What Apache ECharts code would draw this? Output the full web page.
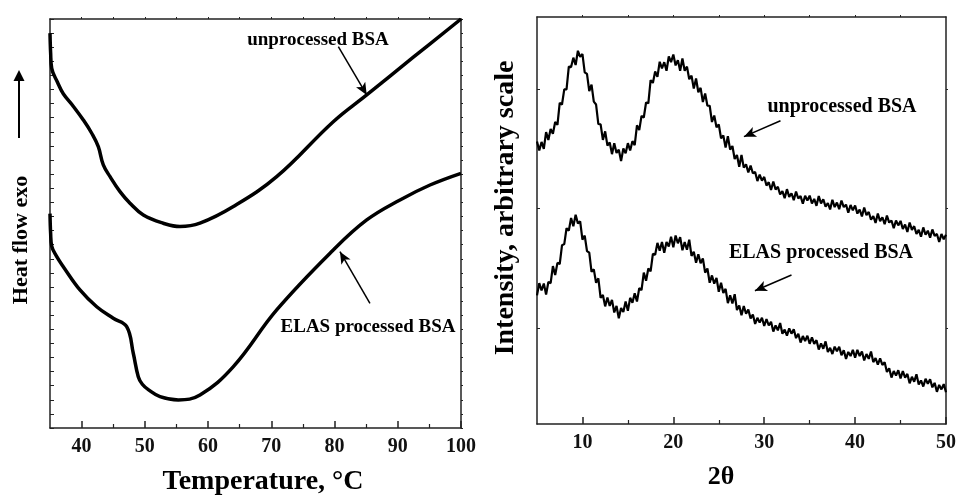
<!DOCTYPE html>
<html><head><meta charset="utf-8">
<script src="https://cdn.jsdelivr.net/npm/echarts@6/dist/echarts.min.js"></script>
<style>html,body{margin:0;padding:0;background:#fff}#c{width:959px;height:495px}</style>
</head><body><div id="c"></div>
<script>
// ---- DSC (left panel) ----
const dscTempUnprocessed = [35.0,35.1,35.27,36.2,37.1,38.7,40.27,41.6,42.64,43.43,44.5,46.07,47.65,49.76,52.9,55.56,58.72,64.0,70.85,79.8,85.09,92.46,100];
const dscHeatUnprocessed = [28.0,26.6,25.5,24.5,23.7,22.8,21.84,20.9,19.95,18.65,17.82,16.76,15.94,15.1,14.52,14.28,14.52,15.7,17.82,21.72,23.62,26.29,29.0];
const dscTempElas = [35.0,35.1,35.27,36.0,37.1,39.74,42.39,45.0,47.13,48.17,48.96,49.6,50.6,52.4,55.29,58.72,64.0,70.85,79.8,85.09,90.35,95.1,100];
const dscHeatElas = [15.2,13.8,12.9,12.2,11.44,9.79,8.6,7.78,7.18,5.3,3.64,3.1,2.7,2.22,1.99,2.34,4.35,8.37,12.62,14.75,16.17,17.23,18.06];
const dscTicks = [40,50,60,70,80,90,100];
const dscMinorTicks = [45,55,65,75,85,95];
const dscTopTicks = [40,45,50,55,60,65,70,75,80,85,90,95];

// ---- XRD (right panel), sampled every 0.25 deg from 5 deg ----
const xrdStart = 5, xrdStep = 0.25;
const xrdUnprocessed = [
69.4,67.2,69.3,67.6,71.7,69.8,72.5,71.3,74.2,73.5,
78.9,78.5,82.2,82.2,87.8,87.7,90.0,88.2,91.7,90.2,
90.9,86.4,86.0,81.8,83.4,79.2,78.5,73.7,73.6,69.8,
71.9,68.4,69.2,66.3,69.0,66.6,67.4,64.6,67.7,66.5,
69.0,67.2,69.5,68.5,73.4,72.2,75.7,75.3,79.0,78.8,
84.5,83.8,86.6,85.3,89.0,87.4,88.9,86.8,90.3,88.9,
90.8,88.1,89.4,86.8,89.8,86.8,87.8,84.7,85.6,82.4,
84.9,81.5,82.6,79.1,81.2,78.2,78.2,74.2,75.8,72.9,
73.6,70.2,70.9,67.9,70.7,67.4,68.3,65.1,66.1,63.2,
66.1,63.0,63.8,61.8,63.5,61.6,61.9,59.7,61.3,59.8,
60.7,58.6,59.4,57.5,59.6,57.6,58.3,56.4,57.2,55.5,
57.7,55.8,56.7,55.0,57.1,55.4,56.0,54.1,56.1,54.9,
56.1,54.2,55.3,53.6,56.0,54.2,55.2,53.4,54.3,52.7,
55.1,53.3,54.4,52.8,54.9,53.3,53.9,51.9,53.8,52.5,
53.7,51.7,52.7,51.0,53.2,51.3,52.1,50.2,51.1,49.4,
51.7,49.8,50.8,49.1,51.2,49.5,50.0,48.1,50.0,48.8,
49.9,47.9,49.0,47.2,49.5,47.7,48.6,46.7,47.7,46.0,
48.3,46.5,47.5,45.8,47.8,46.2,46.7,44.7,46.7,45.4,
46.5];
const xrdElas = [
31.6,34.6,32.8,34.5,31.8,34.9,34.6,38.8,36.6,39.6,
39.3,43.9,44.2,48.1,47.5,50.6,48.6,51.4,49.3,49.8,
45.3,46.3,42.5,42.1,37.4,38.0,34.7,35.8,31.0,31.7,
28.9,31.1,29.0,30.5,27.4,29.0,26.0,28.5,27.5,30.1,
27.8,31.0,29.8,32.1,30.1,33.4,32.9,37.2,35.2,38.2,
37.5,41.8,41.6,44.5,42.6,44.7,42.1,44.7,43.6,46.0,
43.4,46.3,44.4,45.9,42.7,44.7,42.8,45.3,41.3,42.3,
39.6,41.7,39.5,40.7,37.2,38.2,34.7,36.5,34.5,35.9,
32.5,34.7,32.2,33.2,29.7,31.6,29.6,31.9,28.0,29.1,
26.7,29.0,27.1,28.1,25.9,26.9,24.6,26.1,24.9,26.1,
24.1,25.8,24.2,25.1,22.7,24.2,23.0,24.8,22.2,23.2,
21.7,23.5,22.2,23.3,21.1,22.2,20.0,21.6,20.4,21.7,
19.7,21.3,19.7,20.6,18.3,19.8,18.5,20.3,17.7,18.7,
17.2,19.0,17.9,19.0,16.9,18.1,16.0,17.7,16.7,18.2,
16.3,18.2,16.7,17.8,15.6,17.2,16.0,17.8,15.2,16.2,
14.6,16.1,14.5,15.2,12.8,13.7,11.4,13.0,11.9,13.2,
11.2,13.0,11.4,12.3,10.0,11.6,10.4,12.2,9.7,10.7,
9.2,11.1,9.9,11.0,9.0,10.1,7.9,9.6,8.5,9.8,
7.8];
const xrdTicks = [10,20,30,40,50];
const xrdMinorTicks = [15,25,35,45];
const xrdTopTicks = [10,15,20,25,30,35,40,45];
const xrdYTicks = [23.6,53,82.3];

// annotation arrows in data units
const dscArrowUnprocessed = [[80.6,27.04],[85.09,23.62]];
const dscArrowElas = [[85.6,8.84],[80.86,12.5]];
const xrdArrowUnprocessed = [[31.79,74.5],[27.77,70.6]];
const xrdArrowElas = [[33.0,36.6],[28.98,32.75]];

const FF = '"Liberation Serif","Times New Roman",serif';
const AX = '#222';
const zip = (a,b) => a.map((v,i) => [v,b[i]]);
const xrdAngles = xrdUnprocessed.map((_,i) => xrdStart + i*xrdStep);

function arrowLine(pts){
  return {silent:true, symbol:['none','arrow'], symbolSize:[8,12],
    lineStyle:{color:'#000',width:1.5,type:'solid'}, label:{show:false},
    emphasis:{disabled:true},
    data:[[{coord:pts[0]},{coord:pts[1]}]]};
}
function bottomAxis(grid,min,max,ticks,labels){
  return {type:'value',gridIndex:grid,min:min,max:max,position:'bottom',
    axisLine:{show:true,lineStyle:{color:AX,width:1.5}},
    axisTick:{show:true,inside:true,length:7,customValues:ticks,lineStyle:{color:AX,width:1.5}},
    axisLabel:{show:labels,customValues:ticks,margin:9,color:'#111',fontSize:20,fontWeight:'bold',fontFamily:FF},
    splitLine:{show:false}};
}
function minorAxis(grid,min,max,ticks){
  return {type:'value',gridIndex:grid,min:min,max:max,position:'bottom',
    axisLine:{show:false},
    axisTick:{show:true,inside:true,length:4,customValues:ticks,lineStyle:{color:AX,width:1.2}},
    axisLabel:{show:false},splitLine:{show:false}};
}
function topAxis(grid,min,max,ticks){
  return {type:'value',gridIndex:grid,min:min,max:max,position:'top',
    axisLine:{show:true,lineStyle:{color:AX,width:1.5}},
    axisTick:{show:true,inside:false,length:2,customValues:ticks,lineStyle:{color:AX,width:1}},
    axisLabel:{show:false},splitLine:{show:false}};
}

const chart = echarts.init(document.getElementById('c'), null, {renderer:'canvas'});
chart.setOption({
  animation:false,
  backgroundColor:'#fff',
  grid:[
    {left:50,top:19,width:411,height:409},
    {left:537,top:17,width:411,height:407}
  ],
  xAxis:[
    bottomAxis(0,35,100,dscTicks,true),
    minorAxis(0,35,100,dscMinorTicks),
    topAxis(0,35,100,dscTopTicks),
    bottomAxis(1,5,50,xrdTicks,true),
    minorAxis(1,5,50,xrdMinorTicks),
    topAxis(1,5,50,xrdTopTicks)
  ],
  yAxis:[
    {type:'value',gridIndex:0,min:0,max:29,interval:1,position:'left',
      axisLine:{show:true,lineStyle:{color:AX,width:1.5}},
      axisTick:{show:true,inside:true,length:4,lineStyle:{color:AX,width:1}},
      axisLabel:{show:false},splitLine:{show:false}},
    {type:'value',gridIndex:0,min:0,max:29,interval:1,position:'right',
      axisLine:{show:true,lineStyle:{color:AX,width:1.5}},
      axisTick:{show:true,inside:false,length:2,lineStyle:{color:AX,width:1}},
      axisLabel:{show:false},splitLine:{show:false}},
    {type:'value',gridIndex:1,min:0,max:100,position:'left',
      axisLine:{show:true,lineStyle:{color:AX,width:1.5}},
      axisTick:{show:true,inside:true,length:3,customValues:xrdYTicks,lineStyle:{color:AX,width:1}},
      axisLabel:{show:false},splitLine:{show:false}},
    {type:'value',gridIndex:1,min:0,max:100,position:'right',
      axisLine:{show:true,lineStyle:{color:AX,width:1.5}},
      axisTick:{show:true,inside:false,length:2,customValues:xrdYTicks,lineStyle:{color:AX,width:1}},
      axisLabel:{show:false},splitLine:{show:false}}
  ],
  series:[
    {name:'unprocessed BSA (DSC)',type:'line',xAxisIndex:0,yAxisIndex:0,data:zip(dscTempUnprocessed,dscHeatUnprocessed),
      symbol:'none',smooth:0.4,lineStyle:{color:'#000',width:3.5},markLine:arrowLine(dscArrowUnprocessed)},
    {name:'ELAS processed BSA (DSC)',type:'line',xAxisIndex:0,yAxisIndex:0,data:zip(dscTempElas,dscHeatElas),
      symbol:'none',smooth:0.4,lineStyle:{color:'#000',width:3.5},markLine:arrowLine(dscArrowElas)},
    {name:'unprocessed BSA (XRD)',type:'line',xAxisIndex:3,yAxisIndex:2,data:zip(xrdAngles,xrdUnprocessed),
      symbol:'none',lineStyle:{color:'#000',width:2.2},markLine:arrowLine(xrdArrowUnprocessed)},
    {name:'ELAS processed BSA (XRD)',type:'line',xAxisIndex:3,yAxisIndex:2,data:zip(xrdAngles,xrdElas),
      symbol:'none',lineStyle:{color:'#000',width:2.2},markLine:arrowLine(xrdArrowElas)}
  ],
  graphic:[
    {type:'text',x:263,y:482,style:{text:'Temperature, °C',font:'bold 28px '+FF,fill:'#000',align:'center',verticalAlign:'middle'}},
    {type:'text',x:721,y:477,style:{text:'2θ',font:'bold 26px '+FF,fill:'#000',align:'center',verticalAlign:'middle'}},
    {type:'text',x:21,y:240,rotation:Math.PI/2,style:{text:'Heat flow exo',font:'bold 22px '+FF,fill:'#000',align:'center',verticalAlign:'middle'}},
    {type:'text',x:506,y:208,rotation:Math.PI/2,style:{text:'Intensity, arbitrary scale',font:'bold 28px '+FF,fill:'#000',align:'center',verticalAlign:'middle'}},
    {type:'line',shape:{x1:19,y1:138,x2:19,y2:79},style:{stroke:'#000',lineWidth:2}},
    {type:'polygon',shape:{points:[[19,70],[13.5,81],[24.5,81]]},style:{fill:'#000'}},
    {type:'text',x:318,y:40,style:{text:'unprocessed BSA',font:'bold 19px '+FF,fill:'#000',align:'center',verticalAlign:'middle'}},
    {type:'text',x:368,y:327,style:{text:'ELAS processed BSA',font:'bold 19px '+FF,fill:'#000',align:'center',verticalAlign:'middle'}},
    {type:'text',x:842,y:107,style:{text:'unprocessed BSA',font:'bold 20px '+FF,fill:'#000',align:'center',verticalAlign:'middle'}},
    {type:'text',x:821,y:253,style:{text:'ELAS processed BSA',font:'bold 20px '+FF,fill:'#000',align:'center',verticalAlign:'middle'}}
  ]
});
</script>
</body></html>
